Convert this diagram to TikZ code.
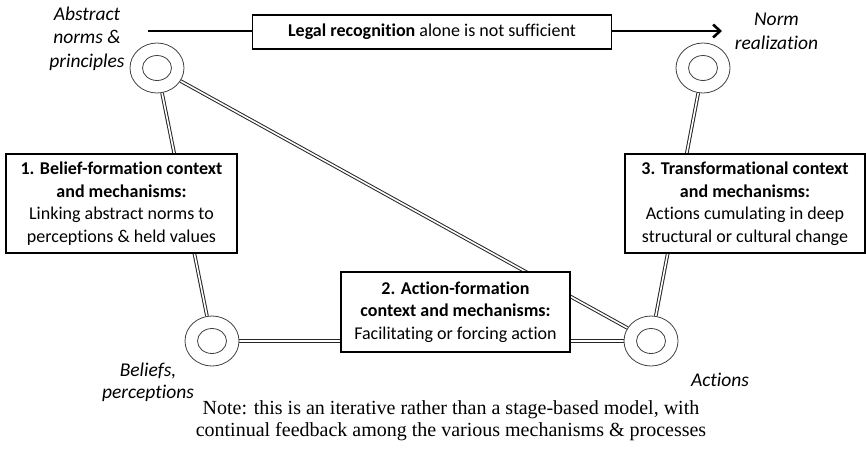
\documentclass[tikz,border=0pt]{standalone}
\usepackage{fontspec}
\setmainfont[Ligatures={NoCommon}]{Carlito}
\newfontfamily\notefont{Liberation Serif}
\usetikzlibrary{%
  arrows.meta,%
  shapes.geometric,%
  backgrounds%
}
\tikzset{>={Straight Barb[length=7pt,width=13pt]},
  ring/.style = {ellipse, draw=black!75, line width=0.8pt, fill=white,
    minimum width=54pt, minimum height=50pt, inner sep=0pt,
    path picture = {\draw[black!75, line width=0.8pt]
      (path picture bounding box.center) ellipse (14.5pt and 12.5pt);}},
  link/.style = {draw=black!85, line width=1pt, double=white,
    double distance=1.6pt},
  ctxbox/.style = {draw, line width=1.2pt, fill=white, align=center,
    font=\fontsize{18}{22.5}\selectfont, inner sep=0pt},
  ringlabel/.style = {font=\fontsize{19.5}{23.5}\selectfont\itshape}}

\begin{document}
\begin{tikzpicture}[x=1pt,y=-1pt]
    \useasboundingbox (0,0) rectangle (866,450);
    % ringe
    \node[ring] (absnorm) at (157,68) {};
    \node[ring] (normreal) at (703,68) {};
    \node[ring] (beliefs) at (212,341) {};
    \node[ring] (actions) at (651,341) {};
    \node[ringlabel, align=center] (absnormlbl) at (87,38.5)
    {Abstract\\norms \&\\principles};
    \node[ringlabel, align=center] (normreallbl) at (776.5,31.5)
    {Norm\\realization};
    \node[ringlabel, align=center, font=\fontsize{19.5}{21.5}\selectfont\itshape]
    (beliefslbl) at (148,382.5) {Beliefs,\\perceptions};
    \node[ringlabel] (actionslbl) at (720,380) {Actions};
    % kastene
    \node[ctxbox, minimum width=231pt, minimum height=99pt] (beliefbox)
    at (121.5,203.5) {\textbf{1. Belief-formation context}\\
      \textbf{and mechanisms:}\\Linking abstract norms to\\
      perceptions \& held values};
    \node[ctxbox, minimum width=229pt, minimum height=80pt] (actionbox)
    at (455.5,312) {\textbf{2. Action-formation}\\
      \textbf{context and mechanisms:}\\Facilitating or forcing action};
    \node[ctxbox, minimum width=240pt, minimum height=99pt] (transbox)
    at (745,203.5) {\textbf{3. Transformational context}\\
      \textbf{and mechanisms:}\\Actions cumulating in deep\\
      structural or cultural change};
    \node[ctxbox, minimum width=359pt, minimum height=34pt] (legalbox)
    at (432,32) {\textbf{Legal recognition} alone is not sufficient};
    \coordinate (arrstart) at (148,31);
    \coordinate (arrend) at (722,31);
    \begin{scope}[on background layer]
      \draw[->, line width=2.6pt] (arrstart) -- (arrend);
      \draw[link] (absnorm) -- (beliefs);
      \draw[link] (absnorm) -- (actions);
      \draw[link] (beliefs) -- (actions);
      \draw[link] (actions) -- (normreal);
    \end{scope}
    \node[font=\notefont\fontsize{20}{22}\selectfont, align=center] (note)
    at (451,421) {Note: this is an iterative rather than a stage-based model, with\\
      continual feedback among the various mechanisms \& processes};
  \end{tikzpicture}
\end{document}
